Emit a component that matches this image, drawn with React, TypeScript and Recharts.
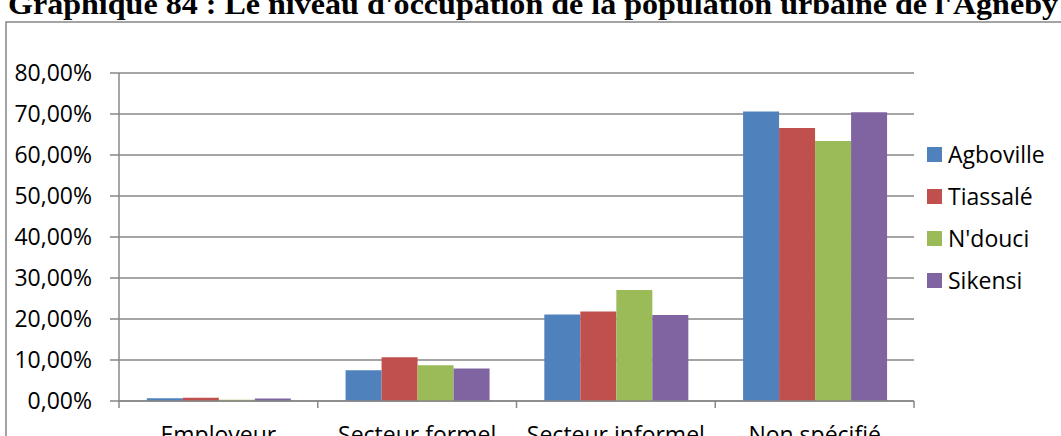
import { BarChart, Bar, XAxis, YAxis, CartesianGrid, Legend } from "recharts";

const categories = ["Employeur", "Secteur formel", "Secteur informel", "Non spécifié"];
const seriesNames = ["Agboville", "Tiassalé", "N'douci", "Sikensi"];
const agboville = [0.7, 7.5, 21.1, 70.6];
const tiassale = [0.8, 10.7, 21.8, 66.6];
const ndouci = [0.3, 8.7, 27.1, 63.4];
const sikensi = [0.6, 7.9, 21.0, 70.4];
const yTicks = [0, 10, 20, 30, 40, 50, 60, 70, 80];
const colors = ["#4F81BD", "#C0504D", "#9BBB59", "#8064A2"];

const title =
  "Graphique 84 : Le niveau d'occupation de la population urbaine de l'Agnéby";

const font = "'Open Sans', sans-serif";
const grey = "#878787";

const data = categories.map((c, i) => ({
  category: c,
  [seriesNames[0]]: agboville[i],
  [seriesNames[1]]: tiassale[i],
  [seriesNames[2]]: ndouci[i],
  [seriesNames[3]]: sikensi[i],
}));

const W = 1061;
const H = 470;
const LEFT = 119;
const RIGHT = 147;
const BAND = (W - LEFT - RIGHT) / categories.length;

function CategoryTick(props: any) {
  const { x, y, payload, index } = props;
  const top = y - 8;
  return (
    <g>
      <line x1={x - BAND / 2} x2={x - BAND / 2} y1={top} y2={top + 7} stroke={grey} strokeWidth={1.5} />
      {index === categories.length - 1 && (
        <line x1={x + BAND / 2} x2={x + BAND / 2} y1={top} y2={top + 7} stroke={grey} strokeWidth={1.5} />
      )}
      <text x={x} y={top + 42} textAnchor="middle" fontFamily={font} fontSize={23} fill="#000">
        {payload.value}
      </text>
    </g>
  );
}

function LegendBox() {
  return (
    <div style={{ fontFamily: font, fontSize: 23, color: "#000" }}>
      {seriesNames.map((n, i) => (
        <div key={n} style={{ display: "flex", alignItems: "center", height: 42 }}>
          <span style={{ width: 15, height: 15, background: colors[i], marginRight: 6, display: "inline-block" }} />
          <span>{n}</span>
        </div>
      ))}
    </div>
  );
}

export default function App() {
  return (
    <div
      style={{
        position: "fixed",
        left: 0,
        top: 0,
        width: W,
        height: 436,
        overflow: "hidden",
        background: "#fff",
      }}
    >
      <svg width={W} height={436} style={{ position: "absolute", left: 0, top: 0 }}>
        <text
          x={8}
          y={14}
          fontFamily="'Liberation Serif', serif"
          fontWeight="bold"
          fontSize={30}
          fill="#000"
          textLength={1050}
          lengthAdjust="spacingAndGlyphs"
        >
          {title}
        </text>
        <rect x={6} y={22} width={W + 20} height={500} fill="none" stroke={grey} strokeWidth={1.5} />
      </svg>
      <div style={{ position: "absolute", left: 0, top: 0 }}>
        <BarChart
          width={W}
          height={H}
          data={data}
          margin={{ top: 73, right: RIGHT, bottom: 19, left: 0 }}
          barCategoryGap="14%"
          barGap={0}
        >
          <CartesianGrid vertical={false} stroke={grey} strokeWidth={1.5} />
          <XAxis
            dataKey="category"
            height={50}
            axisLine={{ stroke: grey, strokeWidth: 1.5 }}
            tickLine={false}
            tick={<CategoryTick />}
            interval={0}
          />
          <YAxis
            width={LEFT}
            domain={[0, 80]}
            ticks={yTicks}
            interval={0}
            tickFormatter={(v: number) => `${v},00%`}
            axisLine={{ stroke: grey, strokeWidth: 1.5 }}
            tickLine={{ stroke: grey, strokeWidth: 1.5 }}
            tickSize={9}
            tickMargin={18}
            tick={{ fontFamily: font, fontSize: 23, fill: "#000" }}
          />
          <Legend
            layout="vertical"
            align="center"
            verticalAlign="middle"
            content={<LegendBox />}
            wrapperStyle={{ left: 927, top: 133, width: 134 }}
          />
          {seriesNames.map((n, i) => (
            <Bar key={n} dataKey={n} fill={colors[i]} isAnimationActive={false} />
          ))}
        </BarChart>
      </div>
    </div>
  );
}
